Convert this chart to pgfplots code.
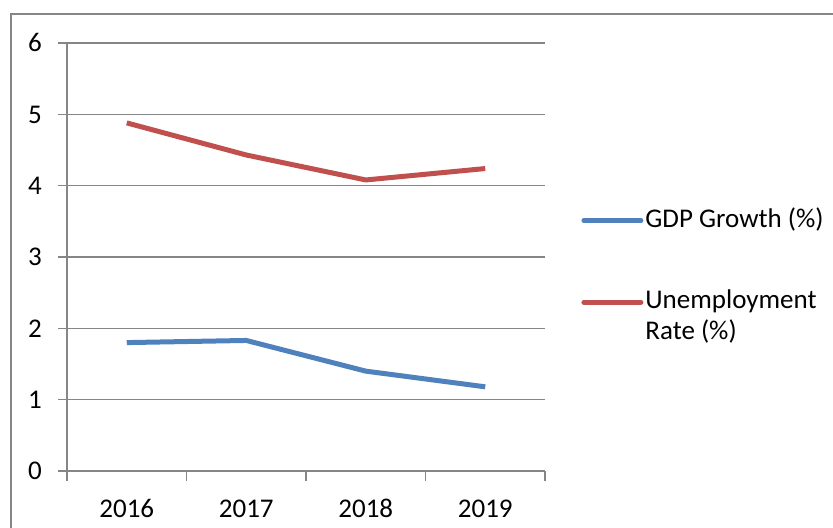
\documentclass[border=0pt]{standalone}
\usepackage{fontspec}
\setmainfont{Carlito}
\usepackage{pgfplots}
\pgfplotsset{compat=1.18}
\definecolor{gdpblue}{HTML}{4F81BD}
\definecolor{unred}{HTML}{C0504D}
\definecolor{gridgray}{HTML}{868686}
\begin{document}
\begin{tikzpicture}[x=1pt,y=1pt]
\useasboundingbox (0,0) rectangle (416.5,264);
\draw[gridgray, line width=0.8pt] (5.5,0) -- (5.5,257) -- (416.5,257);
\begin{axis}[
  at={(33.5pt,28.5pt)}, anchor=south west,
  width=239pt, height=214pt, scale only axis,
  font=\fontsize{13.5}{16}\selectfont,
  /pgf/number format/assume math mode=true,
  xmin=-0.5, xmax=3.5, ymin=0, ymax=6,
  axis x line=bottom, axis y line=left,
  axis line style={gridgray, line width=0.8pt, -},
  xtick={0,1,2,3}, xticklabels={2016,2017,2018,2019},
  major x tick style={draw=none},
  minor xtick={-0.5,0.5,1.5,2.5,3.5},
  minor tick length=5pt,
  minor x tick style={gridgray, line width=0.8pt},
  ytick={0,1,...,6},
  major tick length=4.5pt,
  tick align=outside,
  y tick style={gridgray, line width=0.8pt},
  ymajorgrids, grid style={gridgray, line width=0.8pt},
  xticklabel style={yshift=-6pt, text height=9pt, text depth=0pt},
  yticklabel style={xshift=-4.5pt, text height=9pt, text depth=0pt},
  legend style={at={(1,1)}, anchor=north west, xshift=18pt, yshift=-80pt,
    draw=none, fill=none, inner sep=0pt, row sep=24.5pt,
    font=\fontsize{13.5}{15.5}\selectfont,
    nodes={inner xsep=1pt, anchor=base west}},
  legend cell align=left,
  legend image code/.code={\draw[#1, line cap=round] (0pt,3.3pt) -- (28.5pt,3.3pt);},
]
\addplot[gdpblue, line width=2.5pt, line join=round] coordinates {(0,1.80) (1,1.83) (2,1.40) (3,1.18)};
\addplot[unred, line width=2.5pt, line join=round] coordinates {(0,4.88) (1,4.43) (2,4.08) (3,4.24)};
\legend{GDP Growth (\%), {\renewcommand{\arraystretch}{1.0}\begin{tabular}[t]{@{}l@{}}Unemployment\\Rate (\%)\end{tabular}}}
\end{axis}
\end{tikzpicture}
\end{document}
